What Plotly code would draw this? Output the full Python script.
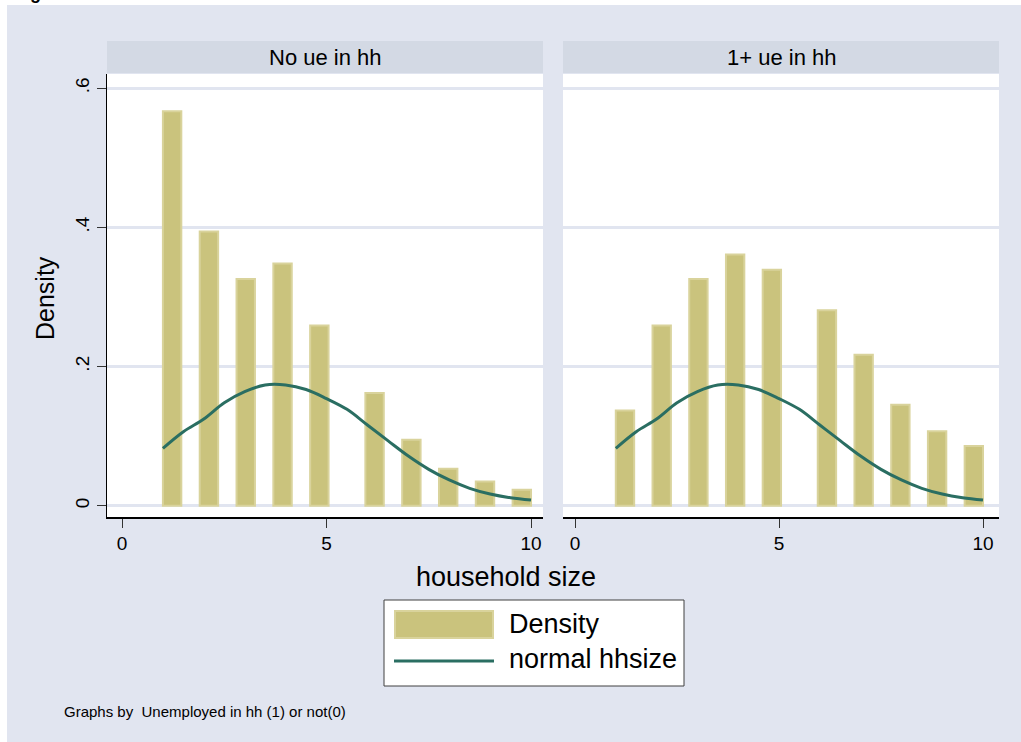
import plotly.graph_objects as go

# ---------------- data ----------------
panel_titles = ["No ue in hh", "1+ ue in hh"]
bin_width = 0.45
bin_start = [1.0, 1.9, 2.8, 3.7, 4.6, 5.95, 6.85, 7.75, 8.65, 9.55]
density_no_ue = [0.567, 0.394, 0.326, 0.348, 0.259, 0.162, 0.095, 0.053, 0.035, 0.023]
density_ue = [0.137, 0.259, 0.326, 0.361, 0.339, 0.281, 0.217, 0.145, 0.107, 0.086]
curve_x = [1.0, 1.5, 2.0, 2.5, 3.0, 3.5, 4.0, 4.5, 5.0, 5.5, 6.0, 6.5, 7.0, 7.5, 8.0, 8.5, 9.0, 9.5, 10.0]
curve_y = [0.0825, 0.1064, 0.1246, 0.148, 0.164, 0.1735, 0.1735, 0.167, 0.154, 0.1385,
           0.116, 0.0935, 0.0714, 0.0523, 0.037, 0.025, 0.0168, 0.0115, 0.0082]
x_tickvals = [0, 5, 10]
x_ticktext = ["0", "5", "10"]
y_tickvals = [0, 0.2, 0.4, 0.6]
y_ticktext = ["0", ".2", ".4", ".6"]
legend_labels = ["Density", "normal hhsize"]
x_title = "household size"
y_title = "Density"
note_text = "Graphs by  Unemployed in hh (1) or not(0)"

# ---------------- style ----------------
W, H = 1021, 742
BG = "#E1E5F0"
STRIP = "#D3D9E4"
GRID = "#E1E5F0"
BAR_FILL = "#CAC37D"
BAR_LINE = "#D9D39C"
CURVE = "#2A6E62"
FONT = "Arial, Liberation Sans, sans-serif"


def fx(px):
    return px / W


def fy(py):
    return 1 - py / H


fig = go.Figure()

panels = [("x", "y", density_no_ue), ("x2", "y2", density_ue)]
bin_centers = [s + bin_width / 2 for s in bin_start]
for xa, ya, dens in panels:
    fig.add_trace(go.Bar(
        x=bin_centers, y=dens, width=bin_width,
        marker=dict(color=BAR_FILL, line=dict(color=BAR_LINE, width=2)),
        xaxis=xa, yaxis=ya, showlegend=False, hoverinfo="skip"))
    fig.add_trace(go.Scatter(
        x=curve_x, y=curve_y, mode="lines",
        line=dict(color=CURVE, width=3, shape="spline"),
        xaxis=xa, yaxis=ya, showlegend=False, hoverinfo="skip"))

# panel pixel boxes
left_box = (107, 543)
right_box = (563, 999)
plot_top, plot_bot = 74, 517
ydom = [fy(plot_bot), fy(plot_top)]

xaxis_common = dict(
    tickvals=x_tickvals, ticktext=x_ticktext, ticks="outside", ticklen=9,
    tickcolor="#333333", tickwidth=1, showline=True, linecolor="#000000", linewidth=1.5,
    showgrid=False, zeroline=False, tickfont=dict(family=FONT, size=19, color="#000"),
)
yaxis_common = dict(
    range=[-0.0162, 0.6205], tickvals=y_tickvals, showgrid=True, gridcolor=GRID,
    gridwidth=2.5, zeroline=False, domain=ydom,
)

fig.update_layout(
    width=W, height=H,
    margin=dict(l=0, r=0, t=0, b=0),
    paper_bgcolor=BG, plot_bgcolor="white",
    bargap=0,
    xaxis=dict(domain=[fx(left_box[0]), fx(left_box[1])],
               range=[-0.367, 10.293], anchor="y", **xaxis_common),
    xaxis2=dict(domain=[fx(right_box[0]), fx(right_box[1])],
                range=[-0.294, 10.392], anchor="y2", **xaxis_common),
    yaxis=dict(anchor="x", ticktext=y_ticktext, ticks="outside", ticklen=9,
               tickcolor="#333333", tickangle=-90, showline=True, linecolor="#000000",
               linewidth=1.5, tickfont=dict(family=FONT, size=19, color="#000"),
               **yaxis_common),
    yaxis2=dict(anchor="x2", matches="y", showticklabels=False, ticks="",
                showline=False, **yaxis_common),
    font=dict(family=FONT, color="#000"),
)

shapes = []
annotations = []

# white band at top and left edge of the page
shapes.append(dict(type="rect", xref="paper", yref="paper", x0=0, x1=1,
                   y0=fy(5), y1=1, fillcolor="white", line=dict(width=0), layer="below"))
shapes.append(dict(type="rect", xref="paper", yref="paper", x0=0, x1=fx(7),
                   y0=0, y1=1, fillcolor="white", line=dict(width=0), layer="below"))

# strips
for (x0, x1), title in zip([left_box, right_box], panel_titles):
    shapes.append(dict(type="rect", xref="paper", yref="paper", x0=fx(x0), x1=fx(x1),
                       y0=fy(73), y1=fy(41), fillcolor=STRIP, line=dict(width=0)))
    annotations.append(dict(xref="paper", yref="paper", x=fx((x0 + x1) / 2), y=fy(57),
                            text=title, showarrow=False, xanchor="center", yanchor="middle",
                            font=dict(family=FONT, size=22, color="#000")))

# axis titles
annotations.append(dict(xref="paper", yref="paper", x=fx(506), y=fy(577), text=x_title,
                        showarrow=False, xanchor="center", yanchor="middle",
                        font=dict(family=FONT, size=27, color="#000")))
annotations.append(dict(xref="paper", yref="paper", x=fx(45), y=fy(298), text=y_title,
                        textangle=-90, showarrow=False, xanchor="center", yanchor="middle",
                        font=dict(family=FONT, size=25, color="#000")))

# manual legend
shapes.append(dict(type="rect", xref="paper", yref="paper", x0=fx(384), x1=fx(684),
                   y0=fy(686), y1=fy(600), fillcolor="white",
                   line=dict(color="#404040", width=1)))
shapes.append(dict(type="rect", xref="paper", yref="paper", x0=fx(395), x1=fx(493),
                   y0=fy(638), y1=fy(611), fillcolor=BAR_FILL,
                   line=dict(color=BAR_LINE, width=2)))
shapes.append(dict(type="line", xref="paper", yref="paper", x0=fx(394), x1=fx(494),
                   y0=fy(661), y1=fy(661), line=dict(color=CURVE, width=3)))
for label, py in zip(legend_labels, [624, 659]):
    annotations.append(dict(xref="paper", yref="paper", x=fx(507), y=fy(py), text=label,
                            showarrow=False, xanchor="left", yanchor="middle",
                            font=dict(family=FONT, size=27, color="#000")))

# note
annotations.append(dict(xref="paper", yref="paper", x=fx(62), y=fy(711), text=note_text,
                        showarrow=False, xanchor="left", yanchor="middle",
                        font=dict(family=FONT, size=15, color="#000")))

# clipped figure caption at very top
annotations.append(dict(xref="paper", yref="paper", x=fx(12), y=fy(5), text="<b>Figure</b>",
                        showarrow=False, xanchor="left", yanchor="bottom",
                        font=dict(family=FONT, size=18, color="#000")))

fig.update_layout(shapes=shapes, annotations=annotations)

fig.write_html("out.html",
               config={"displayModeBar": False, "staticPlot": True},
               post_script="document.body.style.margin='0';document.body.style.overflow='hidden';")
